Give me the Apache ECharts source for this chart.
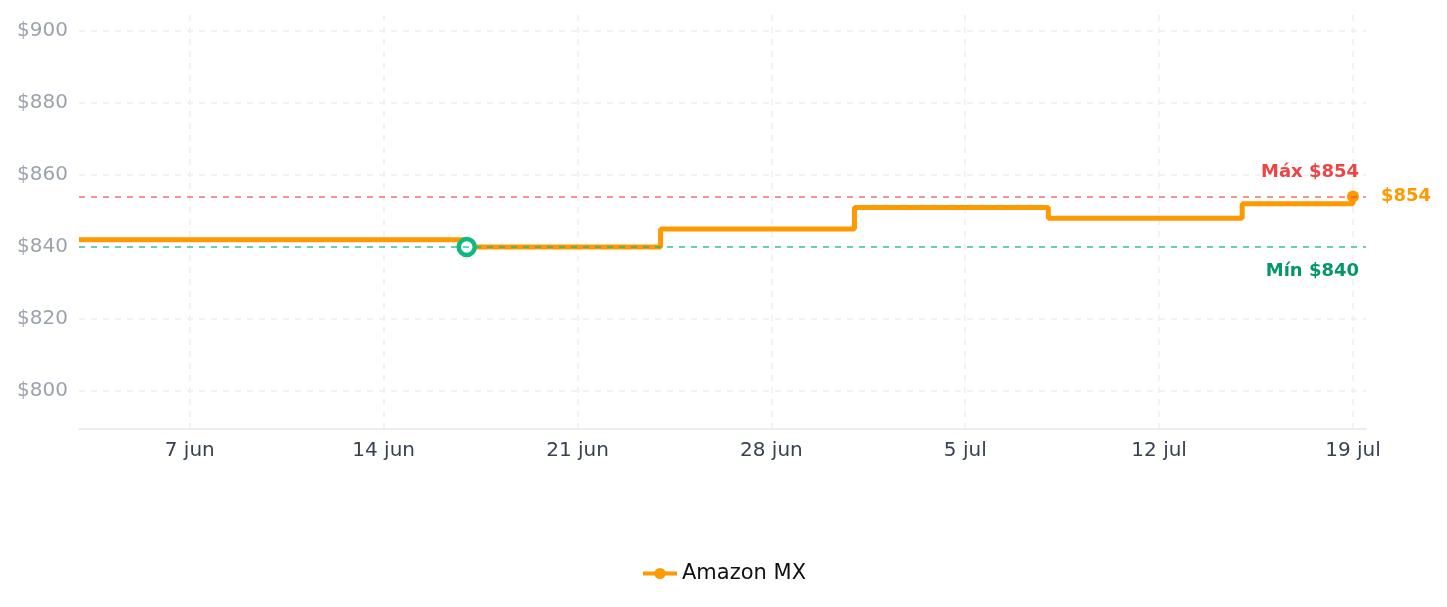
<!DOCTYPE html>
<html>
<head>
<meta charset="utf-8">
<script src="https://cdn.jsdelivr.net/npm/echarts@6/dist/echarts.min.js"></script>
<style>
  html, body { margin: 0; padding: 0; background: #fff; }
  #chart { width: 1447px; height: 607px; }
</style>
</head>
<body>
<div id="chart"></div>
<script>
// Historial de precio - Amazon MX

// datos
const dates = ['2025-06-03', '2025-06-17', '2025-06-24', '2025-07-01', '2025-07-08', '2025-07-15', '2025-07-19'];
const prices = [842, 840, 845, 851, 848, 852, 854];
const meses = ['ene', 'feb', 'mar', 'abr', 'may', 'jun', 'jul', 'ago', 'sep', 'oct', 'nov', 'dic'];
const tienda = 'Amazon MX';

// el eje x va en semanas contadas desde el 7 jun (así las marcas caen cada 7 días)
const base = Date.UTC(2025, 5, 7);
const WEEK = 7 * 86400000;
const toWeek = s => (Date.parse(s + 'T00:00:00Z') - base) / WEEK;

const maxP = Math.max(...prices);
const minP = Math.min(...prices);
const minIdx = prices.indexOf(minP);
const last = prices.length - 1;

const naranja = '#ff9900';
const rojo = '#ef4444';
const verde = '#10b981';

const serie = dates.map((d, i) => {
  const item = { value: [toWeek(d), prices[i]], symbol: 'none' };
  if (i === minIdx) {
    item.symbol = 'circle';
    item.symbolSize = 16;
    item.itemStyle = { color: '#fff', borderColor: verde, borderWidth: 4.5 };
  }
  if (i === last) {
    item.symbol = 'circle';
    item.symbolSize = 12;
    item.label = {
      show: true, position: 'right', distance: 22,
      formatter: '$' + prices[i], color: naranja, fontWeight: 'bold', fontSize: 18
    };
  }
  return item;
});

let chart = echarts.init(document.getElementById('chart'));

let option = {
  animation: false,
  textStyle: { fontFamily: 'DejaVu Sans' },
  grid: { left: 79, right: 81, top: 15, bottom: 178, containLabel: false },
  xAxis: {
    type: 'value',
    min: -4 / 7,
    max: (42 + 0.47) / 7,
    minInterval: 1,
    maxInterval: 1,
    axisLine: { show: true, lineStyle: { color: '#e5e7eb', width: 1.5 } },
    axisTick: { show: false },
    axisLabel: {
      color: '#374151', fontSize: 20, margin: 12,
      showMinLabel: false, showMaxLabel: false,
      formatter: v => {
        const d = new Date(base + Math.round(v) * WEEK);
        return d.getUTCDate() + ' ' + meses[d.getUTCMonth()];
      }
    },
    splitLine: {
      show: true, showMinLine: false, showMaxLine: false,
      lineStyle: { color: '#efefef', type: [6, 6], width: 1.5 }
    }
  },
  yAxis: {
    type: 'value',
    min: 789.44,
    max: 904.44,
    minInterval: 20,
    maxInterval: 20,
    axisLine: { show: false },
    axisTick: { show: false },
    axisLabel: {
      color: '#9ca3af', fontSize: 20, margin: 11,
      showMinLabel: false, showMaxLabel: false,
      formatter: v => '$' + v
    },
    splitLine: {
      show: true, showMinLine: false, showMaxLine: false,
      lineStyle: { color: '#efefef', type: [6, 6], width: 1.5 }
    }
  },
  legend: {
    bottom: 18,
    left: 'center',
    itemWidth: 34,
    itemHeight: 14,
    itemGap: 10,
    lineStyle: { width: 4 },
    textStyle: { color: '#111', fontSize: 21 },
    data: [tienda]
  },
  series: [
    {
      name: tienda,
      type: 'line',
      step: 'end',
      symbol: 'circle',
      symbolSize: 12,
      showSymbol: true,
      color: naranja,
      lineStyle: { color: naranja, width: 5 },
      itemStyle: { color: naranja },
      data: serie,
      markLine: {
        silent: true,
        symbol: 'none',
        data: [
          {
            yAxis: maxP,
            lineStyle: { color: 'rgba(239,68,68,0.75)', type: [6, 6], width: 1.5 },
            label: { position: 'insideEndTop', formatter: 'Máx $' + maxP, color: rojo, fontWeight: 'bold', fontSize: 18, distance: [7, 15] }
          },
          {
            yAxis: minP,
            lineStyle: { color: 'rgba(16,185,129,0.8)', type: [6, 6], width: 1.5 },
            label: { position: 'insideEndBottom', formatter: 'Mín $' + minP, color: '#059669', fontWeight: 'bold', fontSize: 18, distance: [7, 15] }
          }
        ]
      }
    }
  ]
};

chart.setOption(option);
</script>
</body>
</html>
